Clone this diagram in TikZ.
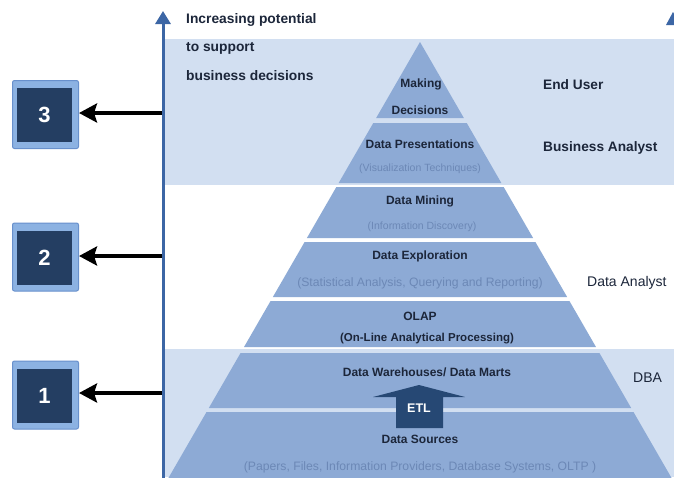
\documentclass[tikz,border=0pt]{standalone}
\usepackage{fontspec}
\setmainfont{Liberation Sans}
\usetikzlibrary{arrows.meta}
\definecolor{bandblue}{RGB}{210,223,241}
\definecolor{pyrblue}{RGB}{141,170,213}
\definecolor{axisblue}{RGB}{60,102,165}
\definecolor{navytext}{RGB}{28,38,58}
\definecolor{subgrey}{RGB}{108,136,182}
\definecolor{boxlight}{RGB}{140,178,226}
\definecolor{boxedge}{RGB}{104,144,204}
\definecolor{boxdark}{RGB}{36,62,98}
\definecolor{etlblue}{RGB}{38,72,116}
\newcommand{\pyrlayer}[2]{%
  \pgfmathsetmacro\wa{0.577*(#1-42)}%
  \pgfmathsetmacro\wb{0.577*(#2-42)}%
  \fill[pyrblue] ({420-\wa},#1) -- ({420+\wa},#1) -- ({420+\wb},#2) -- ({420-\wb},#2) -- cycle;}
\begin{document}
\begin{tikzpicture}[x=1pt,y=-1pt,
  title/.style={font=\bfseries\fontsize{12}{14}\selectfont, text=navytext, inner sep=0pt},
  subtitle/.style={font=\fontsize{10.5}{12}\selectfont, text=subgrey, inner sep=0pt},
  subbig/.style={subtitle, font=\fontsize{12.2}{14}\selectfont},
  lefttext/.style={font=\bfseries\fontsize{13.8}{15}\selectfont, text=navytext, anchor=west, inner sep=0pt},
  rolebold/.style={font=\bfseries\fontsize{13.7}{15}\selectfont, text=navytext, anchor=west, inner sep=0pt},
  role/.style={font=\fontsize{14}{16}\selectfont, text=navytext, anchor=west, inner sep=0pt},
  outerbox/.style={draw=boxedge, line width=1pt, fill=boxlight, rounded corners=2pt, minimum width=66pt, minimum height=68pt, inner sep=0pt},
  innerbox/.style={fill=boxdark, minimum width=55pt, minimum height=54pt, inner sep=0pt, text=white, font=\bfseries\fontsize{22}{24}\selectfont},
  pointer/.style={line width=4pt, -{Stealth[length=18pt,width=19pt,inset=3pt]}},
  axisline/.style={draw=axisblue, line width=3pt, -{Triangle[length=13pt,width=15pt]}}
]
\useasboundingbox (0,0) rectangle (674,477);
\clip (0,0) rectangle (674,477);
\fill[white] (0,0) rectangle (674,477);
% bands
\fill[bandblue] (163,39) rectangle (674,185);
\fill[bandblue] (163,349) rectangle (674,477);
% pyramid layers
\pyrlayer{42}{118}
\pyrlayer{123}{183}
\pyrlayer{187}{238}
\pyrlayer{242}{297}
\pyrlayer{301}{347}
\pyrlayer{353}{408}
\pyrlayer{412}{478}
% axis
\draw[axisline] (163,478) -- (163,11);
\fill[axisblue] (666,25) -- (673,12) -- (680,25) -- cycle;
% ETL arrow
\fill[etlblue] (396,428) -- (396,397) -- (373,397) -- (419,385) -- (465,397) -- (443,397) -- (443,428) -- cycle;
\node[font=\bfseries\fontsize{12.5}{14}\selectfont, text=white, inner sep=0pt] (etl) at (419,408) {ETL};
% left text
\node[lefttext] (inc1) at (186,20) {Increasing potential};
\node[lefttext] (inc2) at (186,48) {to support};
\node[lefttext] (inc3) at (186,76) {business decisions};
% pyramid texts
\node[title] (md1) at (421,84) {Making};
\node[title] (md2) at (420,110) {Decisions};
\node[title] (dp) at (420,144) {Data Presentations};
\node[subtitle] (dps) at (420,169) {(Visualization Techniques)};
\node[title] (dm) at (420,201) {Data Mining};
\node[subtitle] (dms) at (422,227) {(Information Discovery)};
\node[title] (de) at (420,256) {Data Exploration};
\node[subbig] (des) at (420,283) {(Statistical Analysis, Querying and Reporting)};
\node[title] (olap) at (420,316) {OLAP};
\node[title, font=\bfseries\fontsize{11.5}{13}\selectfont] (olaps) at (427,339) {(On-Line Analytical Processing)};
\node[title] (dw) at (427,372) {Data Warehouses/ Data Marts};
\node[title] (ds) at (420,439) {Data Sources};
\node[subbig] (dss) at (420,467) {(Papers, Files, Information Providers, Database Systems, OLTP )};
% roles
\node[rolebold] (eu) at (543,85) {End User};
\node[rolebold] (ba) at (543,148) {Business Analyst};
\node[role] (da) at (587,283) {Data Analyst};
\node[role] (dba) at (633,378) {DBA};
% numbered boxes
\node[outerbox] (b3) at (45.5,114.5) {};
\node[innerbox] (b3i) at (44.5,115) {3};
\node[outerbox] (b2) at (45.5,257) {};
\node[innerbox] (b2i) at (44.5,257.5) {2};
\node[outerbox] (b1) at (45.5,395) {};
\node[innerbox] (b1i) at (44.5,395.5) {1};
% pointers
\coordinate (p3) at (162,113);
\coordinate (p2) at (162,256);
\coordinate (p1) at (162,393);
\draw[pointer] (p3) -- (b3.east |- p3);
\draw[pointer] (p2) -- (b2.east |- p2);
\draw[pointer] (p1) -- (b1.east |- p1);
\end{tikzpicture}
\end{document}
